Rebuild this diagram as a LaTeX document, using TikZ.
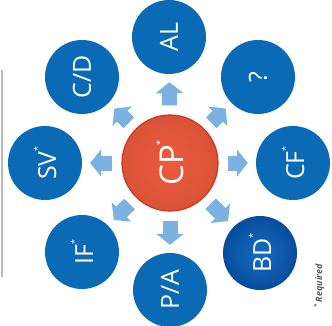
\documentclass[tikz,border=0pt]{standalone}
\usepackage{fontspec}
\setmainfont{Open Sans}
\usetikzlibrary{arrows.meta}
\definecolor{spokeblue}{RGB}{11,106,181}
\definecolor{bdblue}{RGB}{22,108,194}
\definecolor{bddark}{RGB}{8,76,156}
\definecolor{arrowblue}{RGB}{124,178,226}
\definecolor{hubred}{RGB}{236,90,60}
\definecolor{hubdark}{RGB}{204,52,34}
\definecolor{notegray}{RGB}{90,90,90}
\tikzset{
  spoke/.style={circle, fill=spokeblue, minimum size=74bp, inner sep=0pt,
    text=white, font=\fontsize{25}{25}\selectfont, rotate=90},
  hub/.style={circle, inner color=hubred, outer color=hubred!92!black,
    draw=hubdark, line width=1.2bp, minimum size=96bp, inner sep=0pt,
    text=white, font=\fontsize{33}{33}\selectfont, rotate=90},
  blockarrow/.style={draw=arrowblue, line width=15bp,
    -{Triangle[width=27bp,length=11bp]}, shorten <=9bp, shorten >=8bp}
}
\newcommand{\reqmark}{\raisebox{0.62em}{\fontsize{9}{9}\selectfont*}}
\begin{document}
\begin{tikzpicture}[x=1bp, y=-1bp]
  \useasboundingbox (0,0) rectangle (332,326);
  % frame line on the left
  \draw[gray!55, line width=1.2bp] (2,70) -- (2,277);
  % centre
  \node[hub] (cp) at (170,163) {CP\reqmark};
  % spokes
  \node[spoke] (al) at (169,37)  {AL};
  \node[spoke] (qm) at (258,77)  {?};
  \node[spoke] (cf) at (293,163) {CF\reqmark};
  \node[spoke, fill=none, inner color=bdblue, outer color=bddark] (bd) at (260,253) {BD\reqmark};
  \node[spoke] (pa) at (170,290) {P/A};
  \node[spoke] (if) at (82,252)  {IF\reqmark};
  \node[spoke] (sv) at (45,163)  {SV\reqmark};
  \node[spoke] (cd) at (82,77)   {C/D};
  % arrows out of the centre
  \foreach \s in {al,qm,cf,bd,pa,if,sv,cd}
    \draw[blockarrow] (cp) -- (\s);
  % note
  \node[rotate=90, text=notegray, font=\fontsize{9}{9}\selectfont\bfseries\itshape]
    (note) at (319,286) {\raisebox{0.4em}{\fontsize{6}{6}\selectfont*} Required};
\end{tikzpicture}
\end{document}
